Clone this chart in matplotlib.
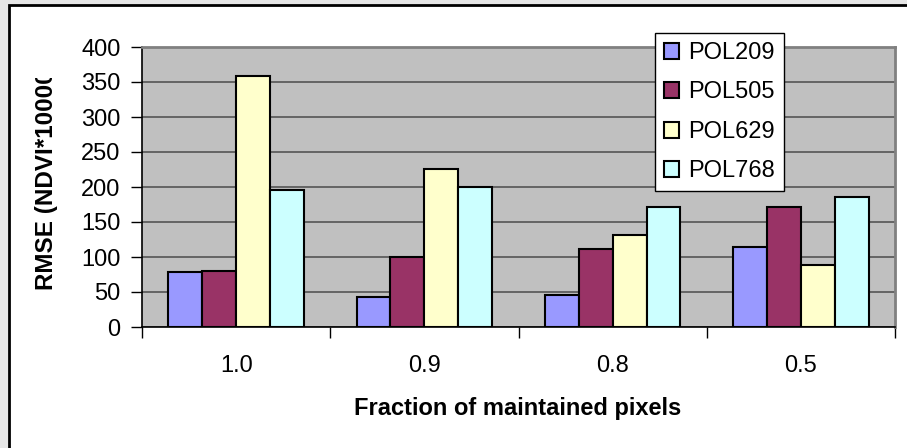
import numpy as np
import matplotlib

matplotlib.use("Agg")
import matplotlib.pyplot as plt
from matplotlib.patches import Rectangle
from matplotlib.transforms import Bbox

plt.rcParams["font.family"] = ["Liberation Sans", "DejaVu Sans"]

# data
categories = ["1.0", "0.9", "0.8", "0.5"]
series_names = ["POL209", "POL505", "POL629", "POL768"]
pol209 = [78, 43, 46, 115]
pol505 = [80, 100, 111, 172]
pol629 = [358, 226, 132, 89]
pol768 = [195, 200, 172, 186]
colors = ["#9999FF", "#993366", "#FFFFCC", "#CCFFFF"]

W, H = 907, 448
FS = 17
fig = plt.figure(figsize=(W / 100, H / 100), dpi=100)
fig.patch.set_facecolor("#e6e6e6")

# white chart area with black frame
frame = Rectangle((9 / W, -0.01), 1 - 9 / W + 0.01, 1 - 5 / H + 0.01, transform=fig.transFigure,
                  facecolor="white", edgecolor="black", linewidth=2, zorder=-5)
fig.patches.append(frame)

# plot area in pixels: left 142, right 895, top 47, bottom 327
ax = fig.add_axes([142 / W, 1 - 327 / H, (895 - 142) / W, (327 - 47) / H])
ax.set_zorder(1)
ax.set_facecolor("#C0C0C0")

x = np.arange(len(categories))
width = 0.18
all_vals = [pol209, pol505, pol629, pol768]
for i, (vals, name, c) in enumerate(zip(all_vals, series_names, colors)):
    ax.bar(x + (i - 1.5) * width, vals, width, color=c, edgecolor="black",
           linewidth=1.5, label=name, zorder=3)

ax.set_xlim(-0.5, len(categories) - 0.5)
ax.set_ylim(0, 400)
ax.set_yticks(np.arange(0, 401, 50))
ax.set_xticks(np.arange(-0.5, len(categories), 1.0))
ax.set_xticklabels([])
ax.set_xticks(x, minor=True)
ax.set_xticklabels(categories, minor=True)
ax.tick_params(axis="x", which="minor", length=0, pad=20, labelsize=FS)
ax.tick_params(axis="x", which="major", length=8, width=1, direction="out")
ax.tick_params(axis="y", length=8, width=1, direction="out", labelsize=FS, pad=7.5)
ax.yaxis.grid(True, color="#555555", linewidth=1.2, zorder=1)
ax.set_axisbelow(True)

for s in ["top", "right"]:
    ax.spines[s].set_color("#808080")
    ax.spines[s].set_linewidth(2)
for s in ["left", "bottom"]:
    ax.spines[s].set_color("black")
    ax.spines[s].set_linewidth(1.2)

fig.text(518 / W, 1 - 408 / H, "Fraction of maintained pixels", ha="center",
         va="center", fontsize=FS, fontweight="bold")

# y-axis title, clipped at the top like in the original
yl = fig.text(47 / W, 1 - 290 / H, "RMSE (NDVI*10000)", rotation=90, ha="center",
              va="bottom", fontsize=17.5, fontweight="bold")
yl.set_clip_box(Bbox.from_extents(0, 0, W, H - 78))
yl.set_clip_on(True)

leg = fig.legend(loc="upper left", bbox_to_anchor=(655 / W, 1 - 33 / H),
                 fontsize=FS, frameon=True, fancybox=False, edgecolor="black",
                 facecolor="white", framealpha=1,
                 handlelength=0.65, handleheight=0.65, labelspacing=0.74,
                 handletextpad=0.38, borderpad=0.38, borderaxespad=0)
leg.get_frame().set_linewidth(1)
leg.set_zorder(5)

fig.savefig("out.png", dpi=100)
